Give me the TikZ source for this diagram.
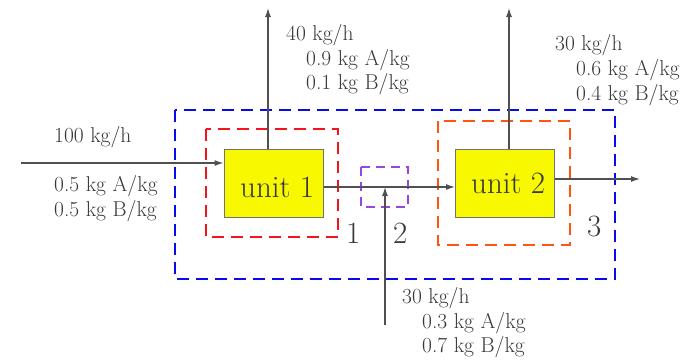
\documentclass[tikz,border=0pt]{standalone}
\usetikzlibrary{arrows.meta}
\definecolor{txt}{HTML}{383838}
\definecolor{ln}{HTML}{505050}
\definecolor{unitfill}{HTML}{F8F800}
\definecolor{bluebox}{HTML}{0A0AF0}
\definecolor{redbox}{HTML}{F5141E}
\definecolor{orangebox}{HTML}{FF5514}
\definecolor{purplebox}{HTML}{9646E1}
\begin{document}
\begin{tikzpicture}[x=1pt,y=-1pt,
  unitbox/.style={draw=ln!80,line width=1pt,fill=unitfill,inner sep=0pt,minimum width=99pt,minimum height=68pt},
  envbox/.style={line width=2.6pt,dash pattern=on 12pt off 7pt},
  flow/.style={draw=ln,line width=1.2pt,-{Latex[length=9pt,width=6pt]}},
  lab/.style={anchor=base west,text=txt,inner sep=0pt,font=\fontsize{21.5}{24}\selectfont},
  big/.style={anchor=base west,text=txt,inner sep=0pt,font=\fontsize{31}{34}\selectfont}]
\useasboundingbox (0,0) rectangle (697,360);
% system boundaries
\draw[envbox,draw=bluebox] (175,110) rectangle (615,279);
\draw[envbox,draw=redbox] (206,129) rectangle (338,237);
\draw[envbox,draw=orangebox] (438,121) rectangle (570,245);
\draw[envbox,draw=purplebox,dash pattern=on 9pt off 6pt] (361,167) rectangle (408,207);
% units
\node[unitbox] (u1) at (273.5,183) {};
\node[unitbox] (u2) at (505,183) {};
\node[big] (t1) at (240,197) {unit 1};
\node[big] (t2) at (471,193) {unit 2};
% boundary labels
\node[big] (n1) at (346,243) {1};
\node[big] (n2) at (393,243) {2};
\node[big] (n3) at (587,236) {3};
% stream end points
\coordinate (in) at (21,163);
\coordinate (top1) at (268,8);
\coordinate (top2) at (509,8);
\coordinate (feed) at (385,325);
\coordinate (out) at (640,179);
\coordinate (mid) at (0,187);
% streams
\draw[flow] (in) -- (in -| u1.west);
\draw[flow] (top1 |- u1.north) -- (top1);
\draw[flow] (top2 |- u2.north) -- (top2);
\draw[flow] (mid -| u1.east) -- (mid -| u2.west);
\draw[flow] (feed) -- (feed |- mid);
\draw[flow] (out -| u2.east) -- (out);
% stream labels
\node[lab] at (54,142) {100 kg/h};
\node[lab] at (54,191) {0.5 kg A/kg};
\node[lab] at (54,216) {0.5 kg B/kg};
\node[lab] at (286,40) {40 kg/h};
\node[lab] at (306,65) {0.9 kg A/kg};
\node[lab] at (306,89) {0.1 kg B/kg};
\node[lab] at (555,50) {30 kg/h};
\node[lab] at (576,75) {0.6 kg A/kg};
\node[lab] at (576,100) {0.4 kg B/kg};
\node[lab] at (402,303) {30 kg/h};
\node[lab] at (422,328) {0.3 kg A/kg};
\node[lab] at (422,352) {0.7 kg B/kg};
\end{tikzpicture}
\end{document}
